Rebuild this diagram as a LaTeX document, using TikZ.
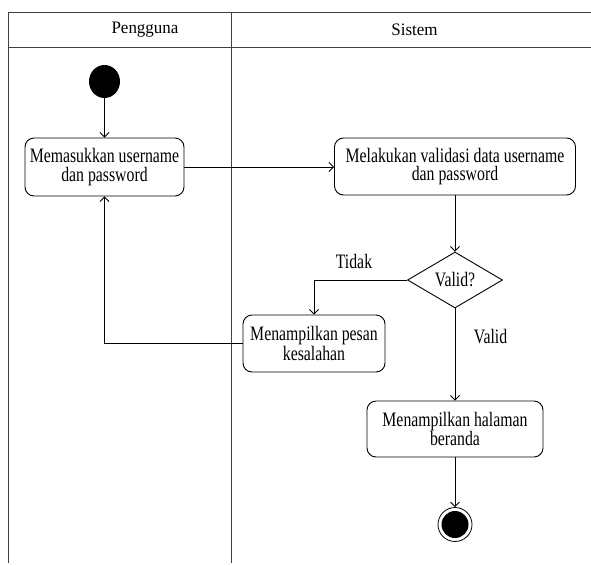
\documentclass[tikz,border=0pt]{standalone}
\usepackage{fontspec}
\setmainfont{Liberation Serif}
\newfontfamily\boxfont{Liberation Serif}[FakeStretch=0.77]
\newfontfamily\lanefont{Liberation Serif}[FakeStretch=0.97]
\usetikzlibrary{arrows.meta,shapes.geometric}

\begin{document}
\begin{tikzpicture}[x=1pt,y=-1pt,
  lane/.style={draw=black!75, line width=0.9pt},
  header/.style={font=\lanefont\fontsize{17.5}{19}\selectfont, inner sep=0pt},
  activity/.style={draw, rounded corners=9pt, align=center, inner sep=0pt,
    line width=0.9pt, font=\boxfont\fontsize{20.5}{18.5}\selectfont},
  guard/.style={inner sep=0pt, font=\boxfont\fontsize{20.5}{18.5}\selectfont},
  decision/.style={diamond, draw, aspect=1.7, inner sep=0pt, line width=0.9pt,
    minimum width=95pt, minimum height=56pt,
    font=\boxfont\fontsize{20.5}{18.5}\selectfont},
  flow/.style={draw, line width=0.8pt, -{Straight Barb[length=4.5pt,width=9pt]}}
]
\useasboundingbox (0,0) rectangle (591,565);

% swimlanes
\draw[lane] (591,12) -- (8,12) -- (8,563);
\draw[lane] (8,47) -- (591,47);
\draw[lane] (231,12) -- (231,563);
\node[header] (hpengguna) at (145,30) {Pengguna};
\node[header] (hsistem) at (414.5,30) {Sistem};

% initial and final states
\node[ellipse, fill=black, inner sep=0pt, minimum width=31pt, minimum height=33pt] (start) at (104.5,81.5) {};
\node[circle, draw, line width=0.8pt, inner sep=0pt, minimum size=34pt] (stop) at (455,524.5) {};
\node[circle, fill=black, inner sep=0pt, minimum size=27pt] (stopdot) at (stop) {};

% activities
\node[activity, minimum width=159pt, minimum height=58pt] (input) at (104.5,167)
  {Memasukkan username\\dan password};
\node[activity, minimum width=241pt, minimum height=57pt] (check) at (455,166.5)
  {Melakukan validasi data username\\dan password};
\node[decision] (valid) at (455,280) {Valid?};
\node[activity, minimum width=142pt, minimum height=57pt] (error) at (314,343.5)
  {Menampilkan pesan\\kesalahan};
\node[activity, minimum width=176pt, minimum height=56pt] (home) at (455,429)
  {Menampilkan halaman\\beranda};

% guards
\node[guard] (tidak) at (354,261) {Tidak};
\node[guard] (ya) at (490.5,337) {Valid};

% control flow
\draw[flow] (start) -- (input);
\draw[flow] (input.east) -- (check.west |- input.east);
\draw[flow] (check) -- (valid);
\draw[flow] (valid.west) -| (error.north);
\draw[flow] (error.west) -| (input.south);
\draw[flow] (valid) -- (home);
\draw[flow] (home) -- (stop);
\end{tikzpicture}
\end{document}
